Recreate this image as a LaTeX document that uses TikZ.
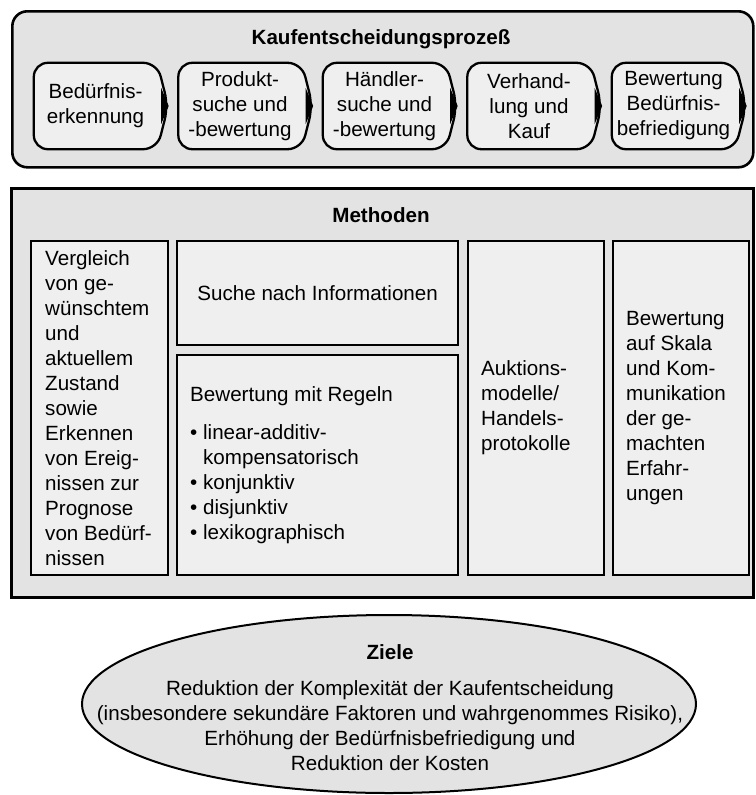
\documentclass[tikz,border=0pt]{standalone}
\usepackage{fontspec}
\setmainfont{Liberation Sans}
\usetikzlibrary{shapes.geometric}
\definecolor{framegray}{HTML}{E3E3E3}
\definecolor{cellgray}{HTML}{EFEFEF}
\pgfdeclarelayer{frames}
\pgfdeclarelayer{shapes}
\pgfsetlayers{frames,shapes,main}
\begin{document}
\begin{tikzpicture}[x=1pt,y=-1pt,
  every node/.style={font=\fontsize{20.6}{25}\selectfont, inner sep=0pt},
  frame/.style={draw, line width=2.6pt, fill=framegray},
  cell/.style={draw, line width=2.3pt, fill=cellgray, anchor=north west},
  heading/.style={font=\fontsize{20.6}{25}\selectfont\bfseries},
  stage/.style={minimum width=123pt, minimum height=86pt, align=center},
  stageline/.style={draw, line width=2.3pt, fill=cellgray, rounded corners=14pt},
  celltext/.style={align=left, anchor=west},
]
\useasboundingbox (0,0) rectangle (755,795);

% frames
\begin{pgfonlayer}{frames}
  \node[frame, rounded corners=15pt, minimum width=741pt, minimum height=156pt,
        anchor=north west] (procframe) at (11,10) {};
  \node[frame, minimum width=742pt, minimum height=409pt,
        anchor=north west] (methframe) at (10,187) {};
\end{pgfonlayer}

% purchase decision process
\node[heading] (proctitle) at (381,39) {Kaufentscheidungsprozeß};
\node[stage] (p1) at (95.5,106)  {Bedürfnis-\\erkennung};
\node[stage] (p2) at (240,106)   {Produkt-\\suche und\\-bewertung};
\node[stage] (p3) at (384.5,106) {Händler-\\suche und\\-bewertung};
\node[stage] (p4) at (529,106)   {Verhand-\\lung und\\Kauf};
\node[stage] (p5) at (673.5,106) {Bewertung\\Bedürfnis-\\befriedigung};

\begin{pgfonlayer}{shapes}
  \foreach \n in {p1,p2,p3,p4,p5} {
    \draw[stageline] (\n.north west) -- (\n.north east) -- ([xshift=11pt]\n.east)
      -- (\n.south east) -- (\n.south west) -- cycle;
    \fill ([xshift=4pt,yshift=18pt]\n.east) -- ([xshift=11.5pt]\n.east)
      -- ([xshift=4pt,yshift=-18pt]\n.east) -- cycle;
  }
\end{pgfonlayer}

% methods
\node[heading] (methtitle) at (381,215) {Methoden};
\node[cell, minimum width=137pt, minimum height=334pt] (c1) at (30,240) {};
\node[cell, minimum width=281pt, minimum height=104pt] (c2) at (176,240) {};
\node[cell, minimum width=281pt, minimum height=220pt] (c3) at (176,354) {};
\node[cell, minimum width=136pt, minimum height=334pt] (c4) at (467,240) {};
\node[cell, minimum width=136pt, minimum height=334pt] (c5) at (612,240) {};

\node[celltext] (t1) at ([xshift=15pt]c1.west) {Vergleich\\von ge-\\wünschtem\\und\\aktuellem\\Zustand\\sowie\\Erkennen\\von Ereig-\\nissen zur\\Prognose\\von Bedürf-\\nissen};
\node (t2) at (c2.center) {Suche nach Informationen};
\node[celltext] (t3) at ([xshift=14pt]c3.west) {Bewertung mit Regeln\\[13pt]
  \textbullet\ linear-additiv-\\\phantom{\textbullet\ }kompensatorisch\\
  \textbullet\ konjunktiv\\\textbullet\ disjunktiv\\\textbullet\ lexikographisch};
\node[celltext] (t4) at ([xshift=14pt]c4.west) {Auktions-\\modelle/\\Handels-\\protokolle};
\node[celltext] (t5) at ([xshift=14pt]c5.west) {Bewertung\\auf Skala\\und Kom-\\munikation\\der ge-\\machten\\Erfahr-\\ungen};

% goals
\node[ellipse, draw, line width=2pt, fill=framegray, minimum width=614pt,
      minimum height=178pt] (goal) at (389,704) {};
\node[align=center] (goaltext) at (390,708) {\textbf{Ziele}\\[11pt]
  Reduktion der Komplexität der Kaufentscheidung\\
  (insbesondere sekundäre Faktoren und wahrgenommes Risiko),\\
  Erhöhung der Bedürfnisbefriedigung und\\
  Reduktion der Kosten};
\end{tikzpicture}
\end{document}
